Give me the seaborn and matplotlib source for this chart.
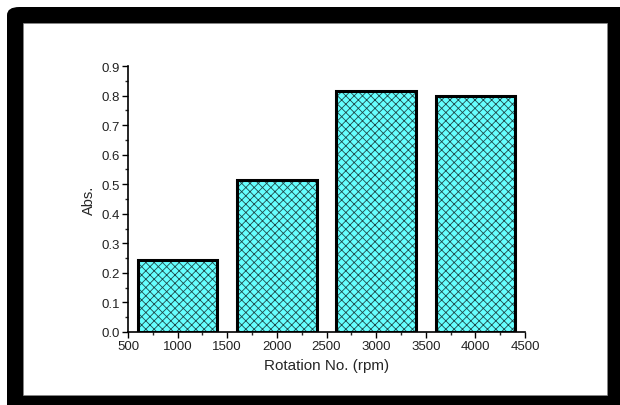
import matplotlib
matplotlib.use("Agg")
import matplotlib.pyplot as plt
from matplotlib.patches import FancyBboxPatch, Rectangle
from matplotlib.ticker import MultipleLocator
import seaborn as sns
import pandas as pd

rotation = [1000, 2000, 3000, 4000]
absorbance = [0.243, 0.515, 0.815, 0.797]
x_ticks = [500, 1000, 1500, 2000, 2500, 3000, 3500, 4000, 4500]
y_ticks = [0.0, 0.1, 0.2, 0.3, 0.4, 0.5, 0.6, 0.7, 0.8, 0.9]

sns.set_style("ticks")
plt.rcParams['font.family'] = ['Liberation Sans', 'DejaVu Sans']
plt.rcParams['hatch.linewidth'] = 0.6

df = pd.DataFrame({"rpm": rotation, "abs": absorbance})

fig = plt.figure(figsize=(6.2, 4.06), dpi=100)
W, H = 620, 406
# black frame and white interior
fig.patches.append(FancyBboxPatch((7 / W, -30 / H), (W + 30 - 7) / W, (H + 30 - 8) / H,
                                  boxstyle="round,pad=0,rounding_size=0.02",
                                  transform=fig.transFigure, facecolor="black",
                                  edgecolor="none", zorder=-3))
fig.patches.append(Rectangle((23 / W, (H - 396) / H), (607 - 23) / W, (396 - 24) / H,
                             transform=fig.transFigure, facecolor="white",
                             edgecolor="#888888", linewidth=0.5, zorder=-2))

ax = fig.add_axes([128 / W, (H - 333) / H, (525 - 128) / W, (333 - 67) / H])
ax.patch.set_visible(False)

# hatched fill (hatch colour follows edge colour)
sns.barplot(data=df, x="rpm", y="abs", native_scale=True, width=0.8,
            color="#66FFFF", saturation=1, linewidth=0,
            ax=ax, errorbar=None)
for p in ax.patches:
    p.set_hatch("xxxx")
    p.set_facecolor("#66FFFF")
    p.set_edgecolor("#1f4a4a")
    p.set_linewidth(0)
n_fill = len(ax.patches)

# thick black outlines
sns.barplot(data=df, x="rpm", y="abs", native_scale=True, width=0.8,
            fill=False, color="black", linewidth=2.2, ax=ax, errorbar=None)
for p in ax.patches[n_fill:]:
    p.set_facecolor("none")
    p.set_edgecolor("black")
    p.set_linewidth(2.2)

ax.set_xlim(500, 4500)
ax.set_ylim(0, 0.9)
ax.set_xticks(x_ticks)
ax.set_yticks(y_ticks)
ax.set_yticklabels([f"{v:.1f}" for v in y_ticks])
ax.xaxis.set_minor_locator(MultipleLocator(250))
ax.yaxis.set_minor_locator(MultipleLocator(0.05))
ax.tick_params(axis="both", which="major", direction="out", length=4, width=1,
               labelsize=9.5, colors="black", labelcolor="#222222", pad=2)
ax.tick_params(axis="both", which="minor", direction="out", length=2, width=1)
for s in ["top", "right"]:
    ax.spines[s].set_visible(False)
for s in ["left", "bottom"]:
    ax.spines[s].set_linewidth(1.2)
    ax.spines[s].set_color("black")

ax.set_xlabel("Rotation No. (rpm)", fontsize=11, labelpad=4)
ax.set_ylabel("Abs.", fontsize=10.5, labelpad=4)

fig.savefig("out.png", dpi=100)
